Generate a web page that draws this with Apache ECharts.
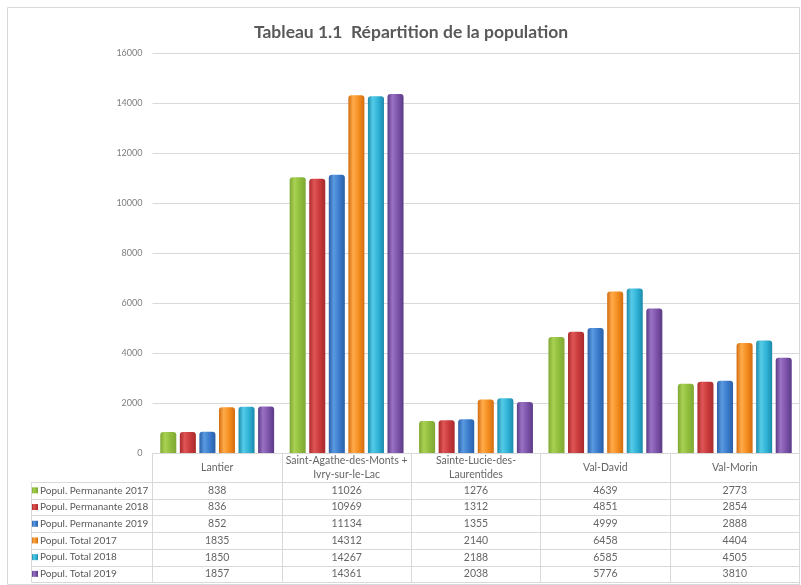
<!DOCTYPE html>
<html><head><meta charset="utf-8">
<script src="https://cdn.jsdelivr.net/npm/echarts@6/dist/echarts.min.js"></script>
<style>html,body{margin:0;padding:0;background:#fff}#c{width:801px;height:585px}</style>
</head><body><div id="c"></div>
<script>
var categories = ['Lantier', 'Saint-Agathe-des-Monts +\nIvry-sur-le-Lac', 'Sainte-Lucie-des-\nLaurentides', 'Val-David', 'Val-Morin'];
var seriesNames = ['Popul. Permanante 2017', 'Popul. Permanante 2018', 'Popul. Permanante 2019', 'Popul. Total 2017', 'Popul. Total 2018', 'Popul. Total 2019'];
var permanente2017 = [838, 11026, 1276, 4639, 2773];
var permanente2018 = [836, 10969, 1312, 4851, 2854];
var permanente2019 = [852, 11134, 1355, 4999, 2888];
var total2017 = [1835, 14312, 2140, 6458, 4404];
var total2018 = [1850, 14267, 2188, 6585, 4505];
var total2019 = [1857, 14361, 2038, 5776, 3810];
var yTicks = [0, 2000, 4000, 6000, 8000, 10000, 12000, 14000, 16000];

var allData = [permanente2017, permanente2018, permanente2019, total2017, total2018, total2019];
var palette = [
  ['#7fa834', '#a9d152', '#8fbc3c'],
  ['#a82a2c', '#e05555', '#c83a3c'],
  ['#2a5fa8', '#5a9ae0', '#3a7bcc'],
  ['#d26c10', '#ffab4a', '#f48d1f'],
  ['#1c8aaa', '#55cbe8', '#2fb2d6'],
  ['#5b3a86', '#9a72c4', '#7c53a9']
];
function grad(p) {
  return new echarts.graphic.LinearGradient(0, 0, 1, 0, [
    {offset: 0, color: p[0]}, {offset: 0.3, color: p[1]}, {offset: 0.65, color: p[2]}, {offset: 1, color: p[0]}
  ]);
}

var FONT = 'Lato, "Liberation Sans", sans-serif';
var gLeft = 152.5, gRight = 799.5, gTop = 53, gBottom = 453;
var headerH = 29, rowH = 16.7;
var tableTop = gBottom + headerH;
var tableBottom = tableTop + rowH * 6;

var series = seriesNames.map(function (n, i) {
  return {
    name: n, type: 'bar', data: allData[i],
    barGap: '22%', barCategoryGap: '12%',
    itemStyle: {color: grad(palette[i]), borderRadius: [3, 3, 0, 0]}
  };
});

var graphics = [
  {type: 'rect', shape: {x: 7.5, y: 7.5, width: 792, height: 577}, style: {fill: 'none', stroke: '#d9d9d9', lineWidth: 1}, silent: true},
  {type: 'line', shape: {x1: 31.5, y1: tableTop, x2: 31.5, y2: tableBottom}, style: {stroke: '#d9d9d9', lineWidth: 1}}
];
for (var r = 0; r <= 6; r++) {
  var yy = Math.round(tableTop + r * rowH) + 0.5;
  graphics.push({type: 'line', shape: {x1: 31.5, y1: yy, x2: gRight, y2: yy}, style: {stroke: '#d9d9d9', lineWidth: 1}});
}

var chart = echarts.init(document.getElementById('c'));
chart.setOption({
  animation: false,
  title: {
    text: 'Tableau 1.1  Répartition de la population',
    left: 406, top: 18, textAlign: 'center',
    textStyle: {fontFamily: FONT, fontSize: 17.5, fontWeight: 'bold', color: '#595959'}
  },
  legend: {
    orient: 'vertical', left: 32, top: tableTop, itemGap: 0, padding: 0, height: 120,
    icon: 'rect', itemWidth: 6, itemHeight: 6,
    textStyle: {fontFamily: FONT, fontSize: 10, color: '#595959', lineHeight: rowH, padding: [0, 0, 0, -3]},
    data: seriesNames
  },
  grid: {left: gLeft, right: 801 - gRight, top: gTop, bottom: 585 - gBottom, containLabel: false},
  xAxis: {
    type: 'category', data: categories,
    axisLine: {lineStyle: {color: '#d9d9d9'}},
    axisTick: {show: true, length: tableBottom - gBottom, lineStyle: {color: '#d9d9d9'}},
    axisLabel: {
      interval: 0, margin: 0, verticalAlign: 'top',
      formatter: function (v, idx) {
        var lines = v.split('\n');
        var s = lines.length > 1 ? lines.map(function (l) { return '{h2|' + l + '}'; }).join('\n') : '{h|' + v + '}';
        for (var k = 0; k < allData.length; k++) s += '\n{v|' + allData[k][idx] + '}';
        return s;
      },
      rich: {
        h: {fontFamily: FONT, fontSize: 10.5, color: '#666', lineHeight: headerH},
        h2: {fontFamily: FONT, fontSize: 10.5, color: '#666', lineHeight: headerH / 2},
        v: {fontFamily: FONT, fontSize: 10.5, color: '#666', lineHeight: rowH}
      }
    }
  },
  yAxis: {
    type: 'value', min: yTicks[0], max: yTicks[yTicks.length - 1], interval: 2000,
    axisLine: {show: false}, axisTick: {show: false},
    axisLabel: {fontFamily: FONT, fontSize: 9, color: '#7f7f7f', margin: 10, formatter: function (v) { return String(v); }},
    splitLine: {lineStyle: {color: '#d9d9d9'}}
  },
  graphic: graphics,
  series: series
});
</script></body></html>
